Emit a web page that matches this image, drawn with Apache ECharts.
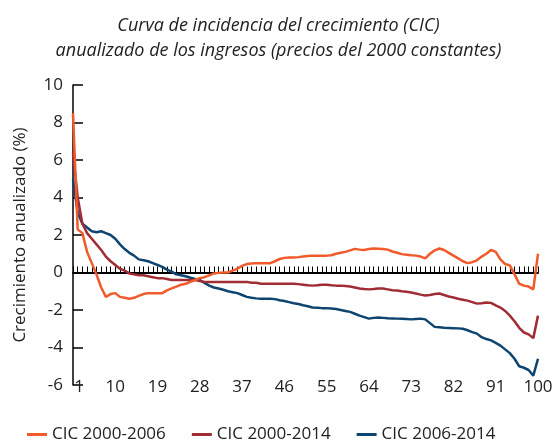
<!DOCTYPE html>
<html>
<head>
<meta charset="utf-8">
<script src="https://cdn.jsdelivr.net/npm/echarts@6/dist/echarts.min.js"></script>
<style>
  html, body { margin: 0; padding: 0; background: #fff; }
  #chart { width: 557px; height: 440px; }
</style>
</head>
<body>
<div id="chart"></div>
<script>
var percentiles = [];
for (var p = 1; p <= 100; p++) percentiles.push(String(p));

var cic2000_2006 = [
  8.5, 2.3, 2.1, 1.1, 0.5, -0.1, -0.8, -1.3, -1.15, -1.1,
  -1.3, -1.35, -1.4, -1.35, -1.25, -1.15, -1.1, -1.1, -1.1, -1.1,
  -0.95, -0.85, -0.75, -0.65, -0.6, -0.5, -0.4, -0.3, -0.25, -0.15,
  -0.05, -0.02, 0.0, 0.0, 0.1, 0.2, 0.35, 0.45, 0.48, 0.5,
  0.5, 0.5, 0.5, 0.6, 0.72, 0.78, 0.8, 0.8, 0.82, 0.85,
  0.88, 0.9, 0.9, 0.9, 0.9, 0.92, 1.0, 1.05, 1.1, 1.18,
  1.26, 1.22, 1.2, 1.25, 1.28, 1.27, 1.25, 1.22, 1.12, 1.05,
  0.98, 0.95, 0.92, 0.9, 0.85, 0.75, 1.0, 1.18, 1.28, 1.2,
  1.05, 0.9, 0.75, 0.6, 0.5, 0.55, 0.65, 0.85, 1.0, 1.2,
  1.1, 0.7, 0.45, 0.38, -0.1, -0.6, -0.7, -0.75, -0.9, 1.0
];
var cic2000_2014 = [
  6.4, 4.0, 2.6, 2.1, 1.8, 1.5, 1.2, 0.85, 0.6, 0.4,
  0.2, 0.1, -0.05, -0.1, -0.15, -0.15, -0.2, -0.25, -0.3, -0.3,
  -0.35, -0.4, -0.4, -0.4, -0.4, -0.4, -0.4, -0.45, -0.5, -0.5,
  -0.5, -0.5, -0.5, -0.5, -0.5, -0.5, -0.5, -0.5, -0.55, -0.55,
  -0.6, -0.6, -0.6, -0.6, -0.6, -0.6, -0.6, -0.6, -0.62, -0.65,
  -0.68, -0.7, -0.68, -0.65, -0.65, -0.68, -0.7, -0.7, -0.72, -0.75,
  -0.8, -0.85, -0.88, -0.9, -0.88, -0.85, -0.85, -0.9, -0.95, -0.96,
  -1.0, -1.03, -1.07, -1.12, -1.18, -1.23, -1.2, -1.15, -1.12, -1.2,
  -1.28, -1.33, -1.4, -1.45, -1.5, -1.58, -1.66, -1.64, -1.6, -1.62,
  -1.75, -1.87, -2.05, -2.3, -2.6, -2.95, -3.2, -3.3, -3.5, -2.3
];
var cic2006_2014 = [
  5.0, 3.2, 2.6, 2.4, 2.2, 2.15, 2.2, 2.1, 2.0, 1.8,
  1.5, 1.25, 1.05, 0.9, 0.7, 0.65, 0.6, 0.5, 0.4, 0.3,
  0.15, 0.05, -0.1, -0.15, -0.2, -0.28, -0.35, -0.4, -0.55, -0.7,
  -0.8, -0.85, -0.92, -1.0, -1.05, -1.1, -1.2, -1.3, -1.35, -1.38,
  -1.4, -1.4, -1.4, -1.42, -1.48, -1.52, -1.58, -1.64, -1.68, -1.75,
  -1.8, -1.87, -1.88, -1.9, -1.9, -1.92, -1.95, -2.0, -2.05, -2.1,
  -2.2, -2.3, -2.38, -2.46, -2.42, -2.4, -2.42, -2.44, -2.45, -2.46,
  -2.47, -2.48, -2.5, -2.48, -2.46, -2.5, -2.7, -2.9, -2.92, -2.95,
  -2.96, -2.97, -2.98, -3.0, -3.08, -3.18, -3.26, -3.45, -3.55, -3.62,
  -3.75, -3.9, -4.1, -4.3, -4.6, -5.0, -5.08, -5.2, -5.5, -4.6
];

var seriesNames = ['CIC 2000-2006', 'CIC 2000-2014', 'CIC 2006-2014'];
var seriesColors = ['#F15A2B', '#A02C34', '#0E4570'];

var font = '"Open Sans", Lato, sans-serif';
var textColor = '#222';

var chart = echarts.init(document.getElementById('chart'));

chart.setOption({
  animation: false,
  textStyle: { fontFamily: font },
  title: {
    text: 'Curva de incidencia del crecimiento (CIC)\nanualizado de los ingresos (precios del 2000 constantes)',
    left: 'center',
    top: 8,
    textStyle: {
      fontFamily: font,
      fontStyle: 'italic',
      fontWeight: 'normal',
      fontSize: 18,
      lineHeight: 25,
      color: textColor
    }
  },
  legend: {
    data: seriesNames,
    left: 22,
    top: 421,
    icon: 'rect',
    itemWidth: 20,
    itemHeight: 3,
    itemGap: 26,
    textStyle: { fontFamily: font, fontSize: 17, color: textColor }
  },
  grid: { left: 73, right: 19, top: 85, bottom: 55 },
  xAxis: [{
    type: 'category',
    data: percentiles,
    boundaryGap: false,
    axisLine: { onZero: true, lineStyle: { color: '#000', width: 2 } },
    axisTick: { show: true, inside: true, interval: 0, length: 6, lineStyle: { color: '#000', width: 1 } },
    axisLabel: { show: true, interval: 0, color: 'rgba(0,0,0,0)', fontSize: 4 }
  }, {
    type: 'category',
    data: percentiles,
    boundaryGap: false,
    position: 'bottom',
    axisLine: { show: false, onZero: false },
    axisTick: { show: false },
    axisLabel: {
      interval: 8,
      margin: -6,
      fontSize: 17,
      color: textColor,
      fontFamily: font,
      formatter: function (v, i) { return i === 0 ? '{first|' + v + '}' : v; },
      rich: { first: { fontSize: 17, color: textColor, fontFamily: font, padding: [0, 0, 0, 12] } }
    }
  }],
  yAxis: {
    type: 'value',
    min: -6,
    max: 10,
    interval: 2,
    name: 'Crecimiento anualizado (%)',
    nameLocation: 'middle',
    nameGap: 44,
    nameTextStyle: { fontSize: 17, color: textColor, fontFamily: font },
    axisLine: { show: true, lineStyle: { color: '#000', width: 1.5 } },
    axisTick: { show: true, inside: true, length: 10, lineStyle: { color: '#000', width: 1.5 } },
    axisLabel: { margin: 10, fontSize: 17, color: textColor, fontFamily: font },
    splitLine: { show: false }
  },
  series: [{
    name: seriesNames[2],
    type: 'line',
    data: cic2006_2014,
    showSymbol: false,
    color: seriesColors[2],
    lineStyle: { width: 2.5 }
  }, {
    name: seriesNames[1],
    type: 'line',
    data: cic2000_2014,
    showSymbol: false,
    color: seriesColors[1],
    lineStyle: { width: 2.5 }
  }, {
    name: seriesNames[0],
    type: 'line',
    data: cic2000_2006,
    showSymbol: false,
    color: seriesColors[0],
    lineStyle: { width: 2.5 }
  }]
});
</script>
</body>
</html>
